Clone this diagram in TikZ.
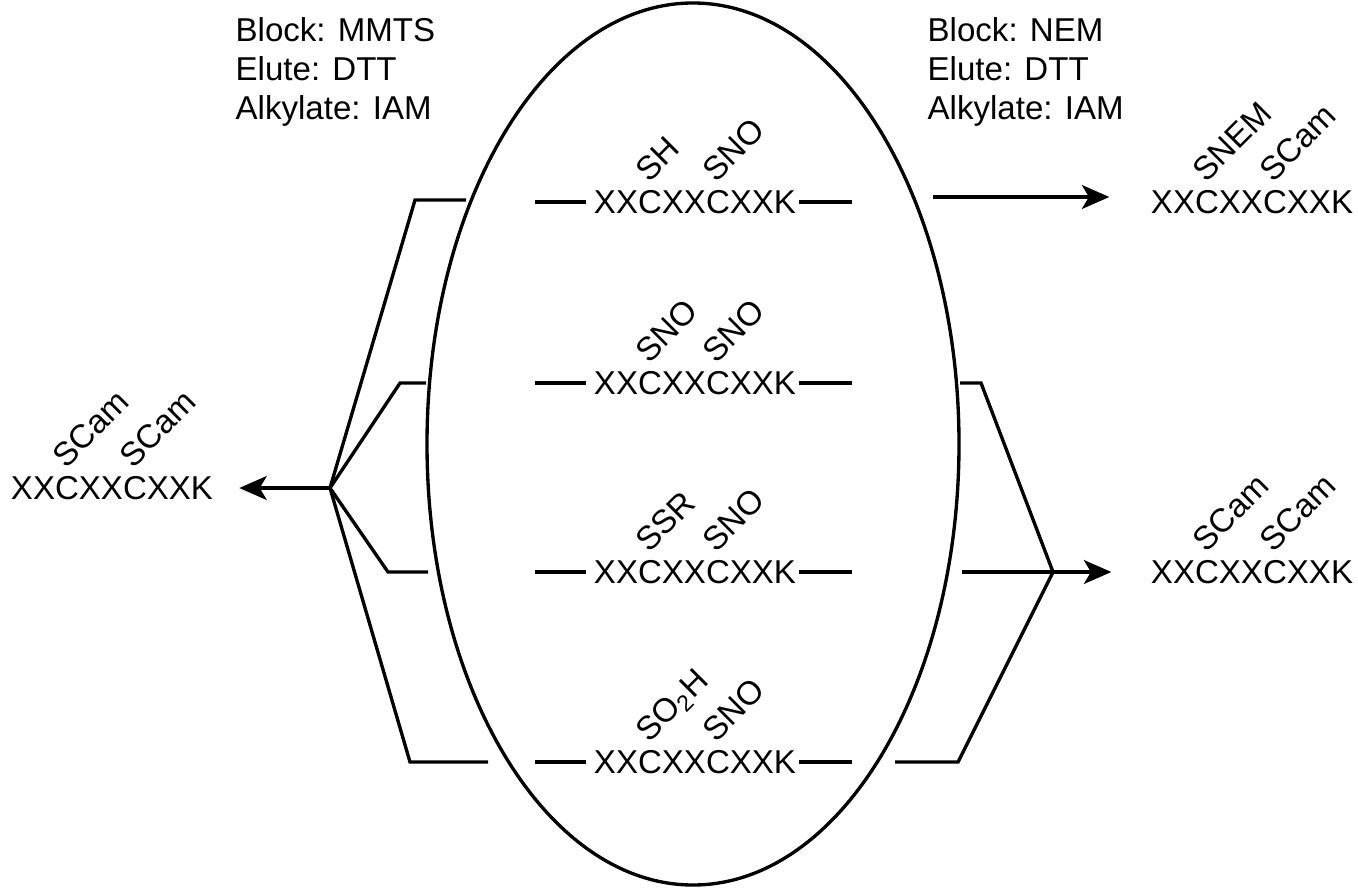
\documentclass[tikz,border=0pt]{standalone}
\usepackage{fontspec}
\setmainfont{Liberation Sans}
\usetikzlibrary{arrows.meta, positioning, calc}

\begin{document}
\begin{tikzpicture}[
    x=0.01cm, y=-0.01cm,
    line width=0.95pt,
    pep/.style={inner sep=0pt, font=\fontsize{9.4}{11.1}\selectfont},
    mod/.style={pep, rotate=45, anchor=base west},
    cond/.style={pep, align=left, anchor=north west},
    arrow/.style={-{Stealth[length=7.8pt, width=6.8pt, inset=2pt]}},
    link/.style={line join=miter}
]
\useasboundingbox (0,0) rectangle (1358,888);

% conditions
\node[cond] (condL) at (234,16) {Block: MMTS\\Elute: DTT\\Alkylate: IAM};
\node[cond] (condR) at (926,16) {Block: NEM\\Elute: DTT\\Alkylate: IAM};

% pool of peptides
\draw (693,444) ellipse [x radius=266, y radius=441];
\foreach \i/\y/\sa/\sb in {1/202/SH/SNO, 2/383/SNO/SNO, 3/572/SSR/SNO, 4/762/{SO\textsubscript{2}H}/SNO} {
  \node[pep] (p\i) at (695,\y) {XXCXXCXXK};
  \node[mod] (p\i a) at ([xshift=15.8pt, yshift=1.2pt]p\i.north west) {\sa};
  \node[mod] (p\i b) at ([xshift=34.9pt, yshift=1.2pt]p\i.north west) {\sb};
  \coordinate (dl\i) at (535,\y);
  \coordinate (dr\i) at (852,\y);
  \draw ([xshift=-1.7pt]p\i.west) -- (dl\i);
  \draw ([xshift=0.3pt]p\i.east) -- (dr\i);
}

% products
\node[pep] (outL) at (112,488) {XXCXXCXXK};
\node[mod] at ([xshift=15.8pt, yshift=1.2pt]outL.north west) (outLa) {SCam};
\node[mod] at ([xshift=34.9pt, yshift=1.2pt]outL.north west) (outLb) {SCam};
\node[pep] (outT) at (1252,202) {XXCXXCXXK};
\node[mod] at ([xshift=15.8pt, yshift=1.2pt]outT.north west) (outTa) {SNEM};
\node[mod] at ([xshift=34.9pt, yshift=1.2pt]outT.north west) (outTb) {SCam};
\node[pep] (outB) at (1252,572) {XXCXXCXXK};
\node[mod] at ([xshift=15.8pt, yshift=1.2pt]outB.north west) (outBa) {SCam};
\node[mod] at ([xshift=34.9pt, yshift=1.2pt]outB.north west) (outBb) {SCam};

% MMTS branch
\coordinate (jL) at (330,488);
\foreach \i/\y/\e/\k in {1/200/466/415, 2/383/426/400, 3/572/428/388, 4/762/488/410} {
  \coordinate (eL\i) at (\e,\y);
  \coordinate (kL\i) at (\k,\y);
  \draw[link] (eL\i) -- (kL\i) -- (jL);
}
\draw[arrow] (jL) -- ([xshift=7pt]outL.east);

% NEM branch
\coordinate (aT) at (933,197);
\draw[arrow] (aT) -- ($(outT.west)+(-40,-5)$);
\coordinate (jR) at (1053,572);
\foreach \i/\y/\e/\k in {2/383/960/981, 4/762/895/958} {
  \coordinate (eR\i) at (\e,\y);
  \coordinate (kR\i) at (\k,\y);
  \draw[link] (eR\i) -- (kR\i) -- (jR);
}
\coordinate (eR3) at (962,572);
\draw (eR3) -- (jR);
\draw[arrow] (jR) -- ([xshift=-10.8pt]outB.west);
\end{tikzpicture}
\end{document}
